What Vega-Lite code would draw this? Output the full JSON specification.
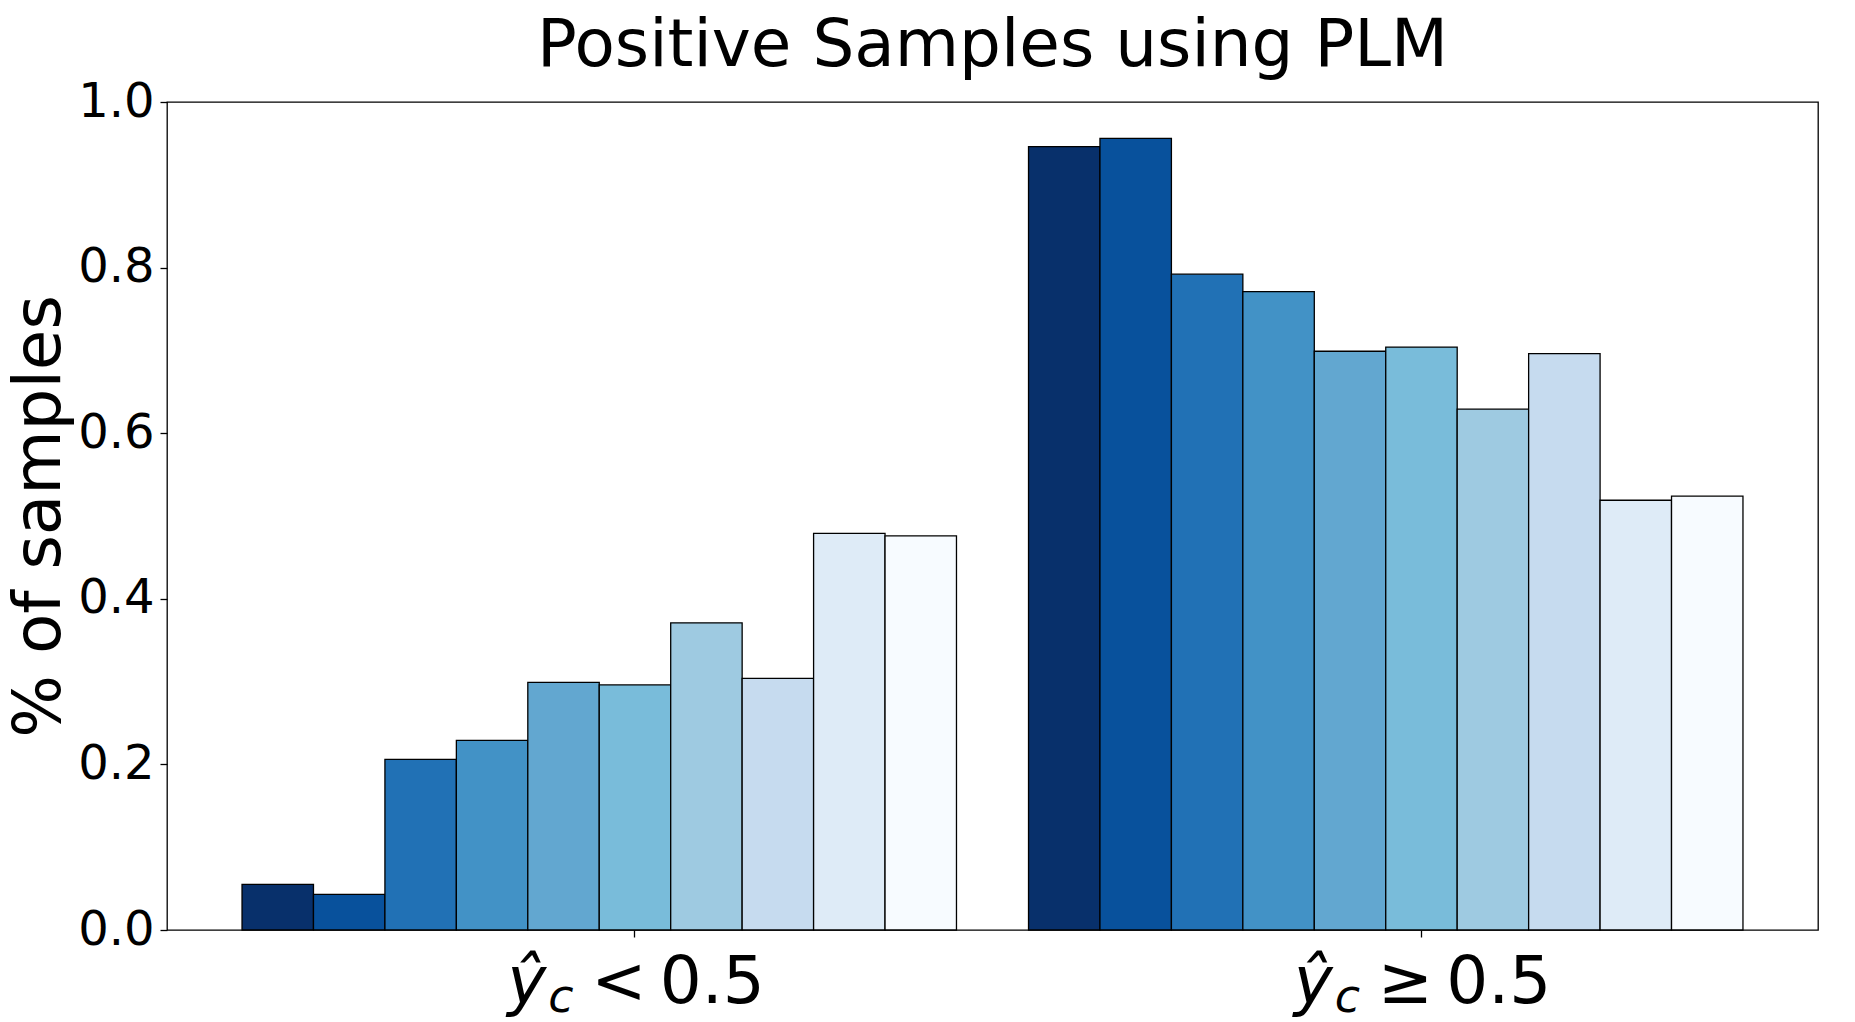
{
  "$schema": "https://vega.github.io/schema/vega-lite/v6.json",
  "width": 1651,
  "height": 828,
  "autosize": {"type": "none"},
  "padding": {"left": 167, "top": 102, "right": 37, "bottom": 92},
  "background": "white",
  "title": {
    "text": "Positive Samples using PLM",
    "font": "DejaVu Sans",
    "fontSize": 66,
    "fontWeight": "normal",
    "color": "black",
    "anchor": "middle",
    "baseline": "alphabetic",
    "offset": -54
  },
  "config": {
    "font": "DejaVu Sans",
    "view": {"stroke": "black", "strokeWidth": 1.3},
    "axisX": {
      "labels": false,
      "domain": false,
      "grid": false,
      "tickSize": 7,
      "tickColor": "black",
      "tickWidth": 1.3,
      "bandPosition": 0.55
    },
    "axisY": {
      "domain": false,
      "grid": false,
      "labelFont": "DejaVu Sans",
      "labelFontSize": 48,
      "labelColor": "black",
      "labelPadding": 6,
      "tickSize": 7,
      "tickColor": "black",
      "tickWidth": 1.3,
      "titleFont": "DejaVu Sans",
      "titleFontSize": 66,
      "titleFontWeight": "normal",
      "titleColor": "black",
      "titleAngle": -90,
      "titleAlign": "center",
      "titleBaseline": "alphabetic",
      "titleX": -108,
      "titleY": 414
    }
  },
  "datasets": {
    "bars": [
      {"group": "ŷc < 0.5", "series": 1, "value": 0.055},
      {"group": "ŷc < 0.5", "series": 2, "value": 0.043},
      {"group": "ŷc < 0.5", "series": 3, "value": 0.206},
      {"group": "ŷc < 0.5", "series": 4, "value": 0.229},
      {"group": "ŷc < 0.5", "series": 5, "value": 0.299},
      {"group": "ŷc < 0.5", "series": 6, "value": 0.296},
      {"group": "ŷc < 0.5", "series": 7, "value": 0.371},
      {"group": "ŷc < 0.5", "series": 8, "value": 0.304},
      {"group": "ŷc < 0.5", "series": 9, "value": 0.479},
      {"group": "ŷc < 0.5", "series": 10, "value": 0.476},
      {"group": "ŷc ≥ 0.5", "series": 1, "value": 0.946},
      {"group": "ŷc ≥ 0.5", "series": 2, "value": 0.956},
      {"group": "ŷc ≥ 0.5", "series": 3, "value": 0.792},
      {"group": "ŷc ≥ 0.5", "series": 4, "value": 0.771},
      {"group": "ŷc ≥ 0.5", "series": 5, "value": 0.699},
      {"group": "ŷc ≥ 0.5", "series": 6, "value": 0.704},
      {"group": "ŷc ≥ 0.5", "series": 7, "value": 0.629},
      {"group": "ŷc ≥ 0.5", "series": 8, "value": 0.696},
      {"group": "ŷc ≥ 0.5", "series": 9, "value": 0.519},
      {"group": "ŷc ≥ 0.5", "series": 10, "value": 0.524}
    ],
    "labels": [
      {"group": "ŷc < 0.5", "op": "<\u20090.5"},
      {"group": "ŷc ≥ 0.5", "op": "≥\u20090.5"}
    ]
  },
  "encoding": {
    "x": {
      "field": "group",
      "type": "nominal",
      "title": null,
      "scale": {
        "domain": ["ŷc < 0.5", "ŷc ≥ 0.5"],
        "paddingInner": 0.0916,
        "paddingOuter": 0.0954
      }
    }
  },
  "layer": [
    {
      "data": {"name": "bars"},
      "mark": {"type": "bar", "stroke": "black", "strokeWidth": 1.3},
      "encoding": {
        "xOffset": {
          "field": "series",
          "type": "ordinal",
          "scale": {"paddingInner": 0, "paddingOuter": 0}
        },
        "y": {
          "field": "value",
          "type": "quantitative",
          "title": "% of samples",
          "scale": {"domain": [0, 1], "nice": false},
          "axis": {"values": [0, 0.2, 0.4, 0.6, 0.8, 1.0], "format": ".1f"}
        },
        "color": {
          "field": "series",
          "type": "ordinal",
          "legend": null,
          "scale": {
            "range": ["#08306b", "#08519c", "#2171b5", "#4292c6", "#62a7d0", "#79bcda", "#9ecae1", "#c6dbef", "#deebf7", "#f7fbff"]
          }
        }
      }
    },
    {
      "data": {"name": "labels"},
      "mark": {"type": "text", "align": "left", "baseline": "alphabetic", "font": "DejaVu Sans", "fontSize": 66, "fontStyle": "italic", "color": "black", "dx": -92, "dy": 73},
      "encoding": {
        "y": {"datum": 0, "type": "quantitative", "title": "% of samples", "axis": {"values": [0, 0.2, 0.4, 0.6, 0.8, 1.0], "format": ".1f"}},
        "text": {"value": "ŷ"}
      }
    },
    {
      "data": {"name": "labels"},
      "mark": {"type": "text", "align": "left", "baseline": "alphabetic", "font": "DejaVu Sans", "fontSize": 46, "fontStyle": "italic", "color": "black", "dx": -51, "dy": 82},
      "encoding": {
        "y": {"datum": 0, "type": "quantitative", "title": "% of samples", "axis": {"values": [0, 0.2, 0.4, 0.6, 0.8, 1.0], "format": ".1f"}},
        "text": {"value": "c"}
      }
    },
    {
      "data": {"name": "labels"},
      "mark": {"type": "text", "align": "left", "baseline": "alphabetic", "font": "DejaVu Sans", "fontSize": 66, "color": "black", "dx": -8, "dy": 73},
      "encoding": {
        "y": {"datum": 0, "type": "quantitative", "title": "% of samples", "axis": {"values": [0, 0.2, 0.4, 0.6, 0.8, 1.0], "format": ".1f"}},
        "text": {"field": "op", "type": "nominal"}
      }
    }
  ]
}
